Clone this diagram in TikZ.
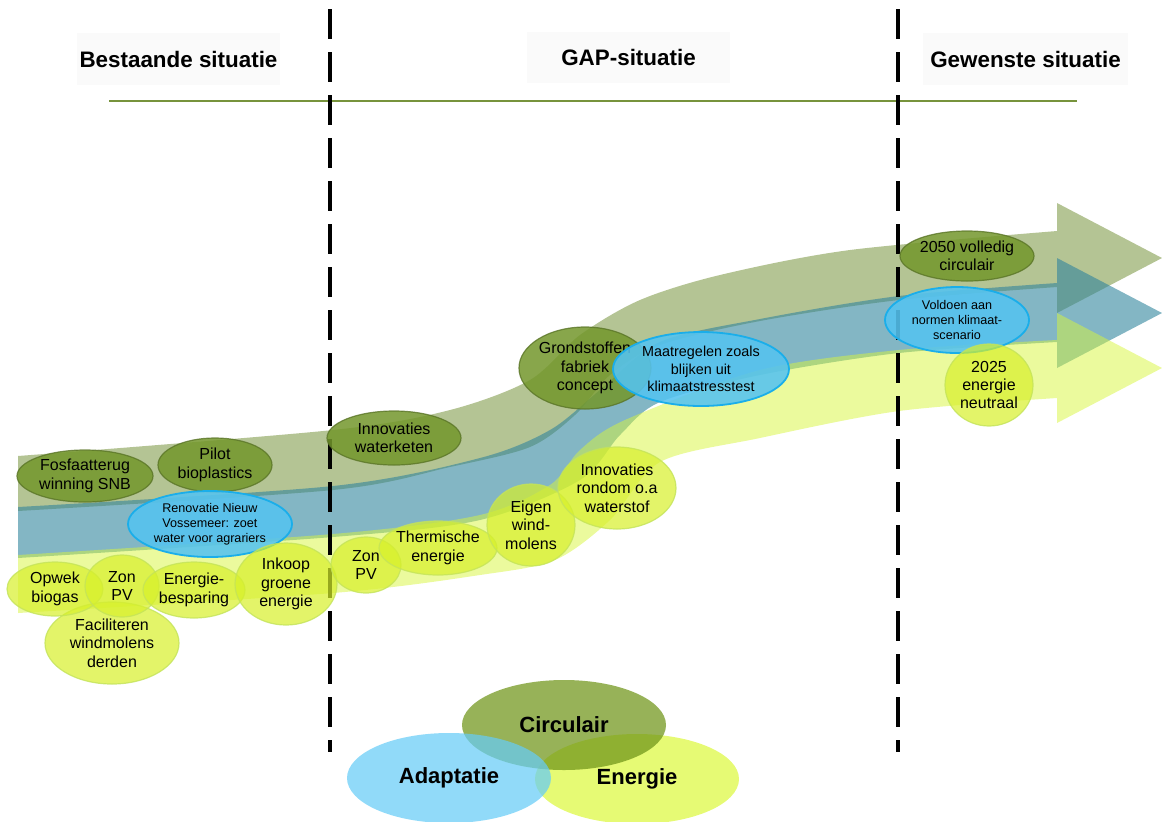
\documentclass[tikz,border=0pt]{standalone}
\usepackage{fontspec}
\setmainfont{Liberation Sans}
\usetikzlibrary{shapes.geometric}
\definecolor{bandolive}{HTML}{77933C}
\definecolor{bandblue}{HTML}{31859C}
\definecolor{bandyellow}{HTML}{D7F53C}
\definecolor{nodeolive}{HTML}{73972B}
\definecolor{edgeolive}{HTML}{5A7527}
\definecolor{nodeblue}{HTML}{55C3F0}
\definecolor{edgeblue}{HTML}{1AAEEA}
\definecolor{nodeyellow}{HTML}{D7F02A}
\definecolor{edgeyellow}{HTML}{C4E35A}
\definecolor{vennolive}{HTML}{6F9418}
\definecolor{vennblue}{HTML}{66CCF6}
\definecolor{vennyellow}{HTML}{DCF83E}
\definecolor{headbg}{HTML}{FAFAFA}

\begin{document}
\begin{tikzpicture}[x=0.5pt,y=-0.5pt,
  ell/.style 2 args={ellipse,inner sep=-3pt,minimum width=#1pt,minimum height=#2pt,align=center,text opacity=1,font=\fontsize{8}{9.2}\selectfont},
  circbub/.style={draw=edgeolive,draw opacity=0.8,line width=0.6pt,fill=nodeolive,fill opacity=0.85},
  adaptbub/.style={draw=edgeblue,line width=0.9pt,fill=nodeblue,fill opacity=0.88},
  energbub/.style={draw=edgeyellow,draw opacity=0.8,line width=0.6pt,fill=nodeyellow,fill opacity=0.7},
  smalltext/.style={font=\fontsize{6.3}{7.6}\selectfont},
  headbox/.style={fill=headbg,inner sep=0pt,font=\fontsize{11.2}{13}\selectfont\bfseries},
  venn/.style={ellipse,minimum width=102pt,minimum height=45pt,fill opacity=0.72,text opacity=1,font=\fontsize{11}{13}\selectfont\bfseries},
  phase/.style={line width=1.75pt,dash pattern=on 15pt off 6.5pt}]
\useasboundingbox (0,0) rectangle (1162,821);

\node[headbox,minimum width=101.5pt,minimum height=26pt] (bestaand) at (178.5,59) {Bestaande situatie};
\node[headbox,minimum width=101.5pt,minimum height=25.5pt] (gap) at (628.5,57.5) {GAP-situatie};
\node[headbox,minimum width=102.5pt,minimum height=26pt] (gewenst) at (1025.5,59) {Gewenste situatie};
\draw[bandolive,line width=0.8pt] (109,101) -- (1077,101);

\fill[bandolive,opacity=0.55] plot[smooth] coordinates {(18,456) (333,430) (450,410) (530,380) (580,335) (640,300) (720,275) (850,250) (1057,231)}
  -- (1057,203) -- (1162,258) -- (1057,313)
  -- plot[smooth] coordinates {(1057,287) (899,300) (760,321) (660,345) (610,375) (575,415) (530,447) (450,467) (333,490) (18,511)} -- cycle;
\fill[bandblue,opacity=0.6] plot[smooth] coordinates {(18,507) (333,486) (480,458) (550,430) (600,390) (660,342) (760,319) (899,296) (1057,283)}
  -- (1057,258) -- (1162,313) -- (1057,368)
  -- plot[smooth] coordinates {(1057,342) (899,353) (760,375) (660,402) (620,435) (580,480) (480,520) (333,537) (18,558)} -- cycle;
\fill[bandyellow,opacity=0.5] plot[smooth] coordinates {(18,555) (333,534) (480,515) (550,485) (580,450) (625,420) (760,370) (899,350) (1057,340)}
  -- (1057,313) -- (1162,368) -- (1057,423)
  -- plot[smooth] coordinates {(1057,398) (899,411) (760,438) (660,462) (610,520) (555,560) (480,575) (333,593) (18,613)} -- cycle;

\draw[phase] (330,9) -- (330,752);
\draw[phase] (898,9) -- (898,752);

\node[ell={68}{26},circbub] (fosfaat) at (85,476) {Fosfaatterug\\winning SNB};
\node[ell={57}{27},circbub] (pilot) at (215,465) {Pilot\\bioplastics};
\node[ell={82}{33},adaptbub,smalltext] (vossemeer) at (210,524) {Renovatie Nieuw\\Vossemeer: zoet\\water voor agrariers};
\node[ell={67}{41},energbub] (faciliteren) at (112,643) {Faciliteren\\windmolens\\derden};
\node[ell={48}{27},energbub] (opwek) at (55,589) {Opwek\\biogas};
\node[ell={37}{31},energbub] (zonpv) at (122,586) {Zon\\PV};
\node[ell={51}{28},energbub] (besparing) at (194,590) {Energie-\\besparing};
\node[ell={51}{41},energbub] (inkoop) at (286,584) {Inkoop\\groene\\energie};

\node[ell={67}{27},circbub] (waterketen) at (394,438) {Innovaties\\waterketen};
\node[ell={35}{28},energbub] (zonpvgap) at (366,565) {Zon\\PV};
\node[ell={59}{27},energbub] (thermisch) at (438,548) {Thermische\\energie};
\node[ell={44}{41},energbub] (windmolens) at (531,525) {Eigen\\wind-\\molens};
\node[ell={59}{41},energbub] (waterstof) at (617,488) {Innovaties\\rondom o.a\\waterstof};
\node[ell={66}{41},circbub] (grondstof) at (585,368) {Grondstoffen\\fabriek\\concept};
\node[ell={88}{37},adaptbub,font=\fontsize{7.2}{8.6}\selectfont] (stresstest) at (701,369) {Maatregelen zoals\\blijken uit\\klimaatstresstest};

\node[ell={67}{25},circbub] (circ2050) at (967,256) {2050 volledig\\circulair};
\node[ell={72}{33},adaptbub,smalltext] (klimaat) at (957,320) {Voldoen aan\\normen klimaat-\\scenario};
\node[ell={44}{41},energbub] (neutraal) at (989,385) {2025\\energie\\neutraal};

\node[venn,fill=vennyellow] (energie) at (637,779) {Energie};
\node[venn,fill=vennolive] (circulair) at (564,725) {Circulair};
\node[venn,fill=vennblue] (adaptatie) at (449,778) {Adaptatie};
\end{tikzpicture}
\end{document}
